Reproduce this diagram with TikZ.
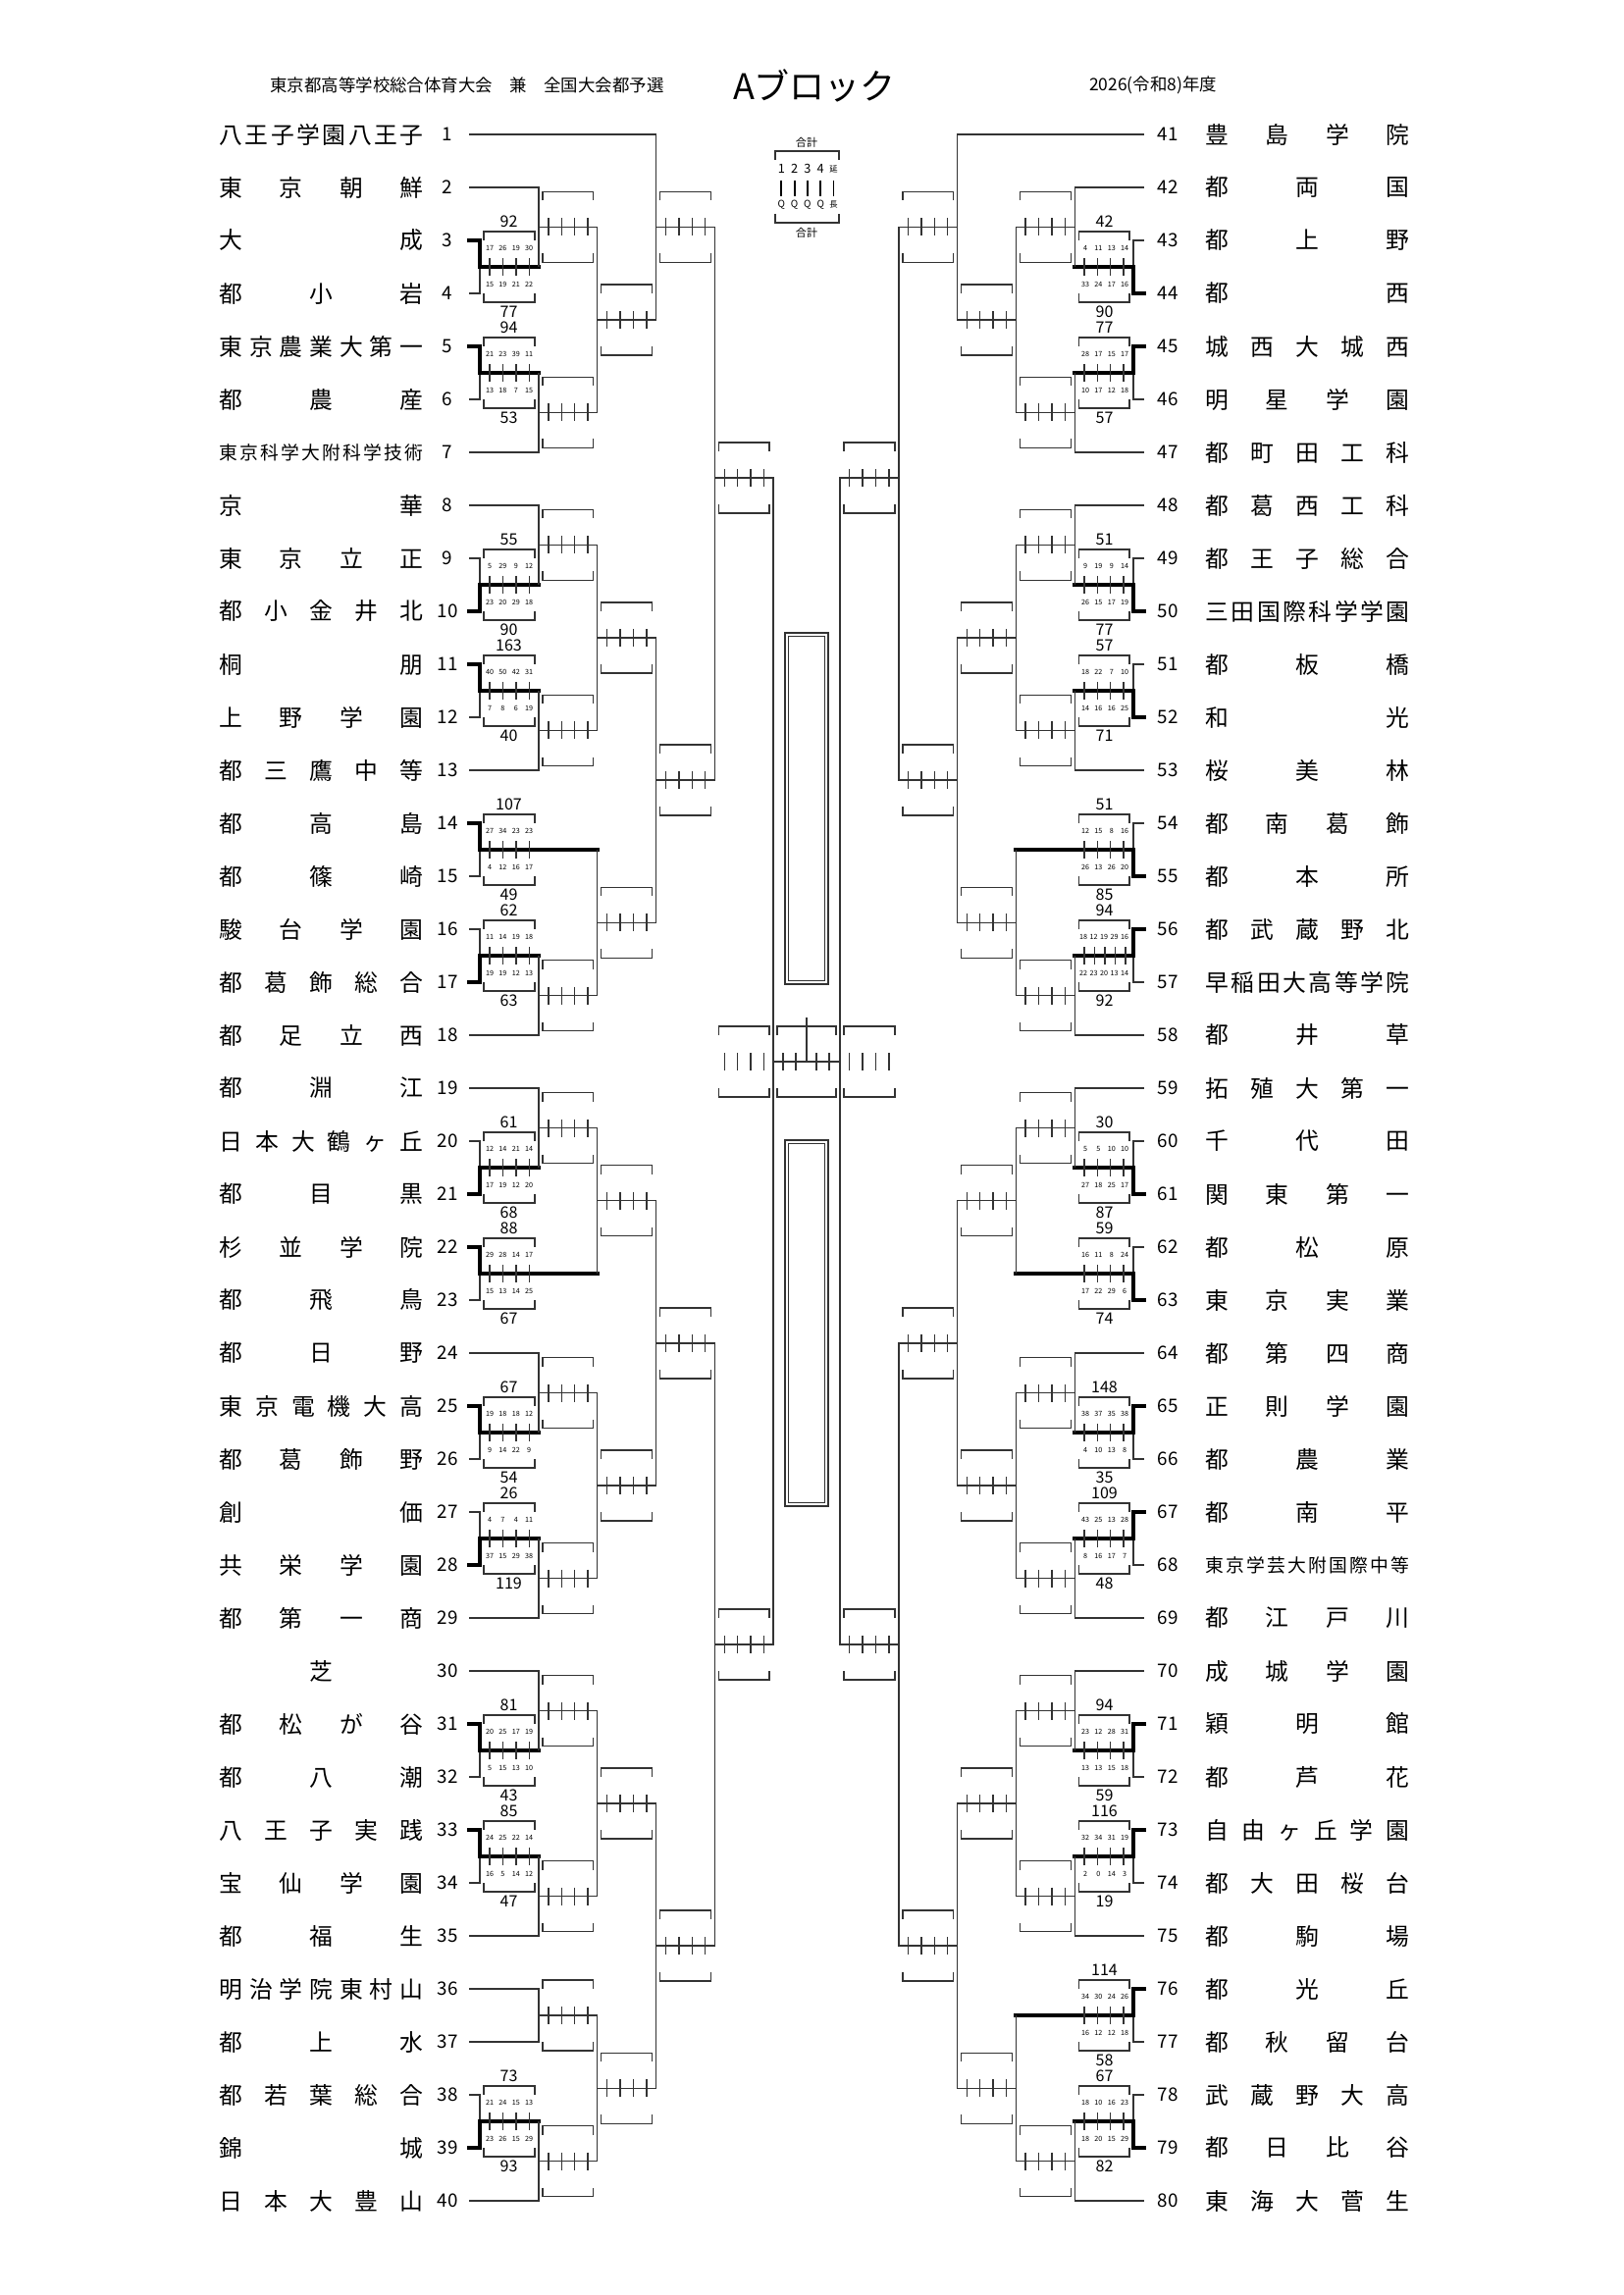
\documentclass[tikz,border=0pt]{standalone}
\usepackage{fontspec}
\setmainfont{Noto Sans CJK JP}
\usetikzlibrary{positioning}

\makeatletter
\newcommand\spread[1]{\def\sp@sep{}\@tfor\sp@c:=#1\do{\sp@sep\sp@c\def\sp@sep{\hfill}}}
\makeatother
\newcommand\tname[1]{\makebox[26.4mm][s]{\expandafter\spread\expandafter{#1}}}
\def\colpos{10,23.4,36.8,50.2}
\def\tickpos{10,23.4,36.8,50.2}

% bracket box with score ticks
\newcommand\mslot[3]{%
  \draw[br] ({mx(cx(#1)+4)},{#2-27}) -- ({mx(cx(#1)+4)},{#2-36}) -- ({mx(cx(#1+1)-4)},{#2-36}) -- ({mx(cx(#1+1)-4)},{#2-27});
  \draw[br] ({mx(cx(#1)+4)},{#2+27}) -- ({mx(cx(#1)+4)},{#2+36}) -- ({mx(cx(#1+1)-4)},{#2+36}) -- ({mx(cx(#1+1)-4)},{#2+27});
  \foreach \o in #3 {\draw[br] ({mx(cx(#1)+\o)},{#2-9}) -- ({mx(cx(#1)+\o)},{#2+9});}
}
% first round match with result
\newcommand\rmatch[8]{%
  \pgfmathsetmacro#1{ty(#2)+27}%
  \ifnum#4=1 \def\stT{win}\def\stB{br}\else\def\stT{br}\def\stB{win}\fi
  \draw[\stT] ({mx(478)},{ty(#2)}) -- ({mx(cx(0))},{ty(#2)}) -- ({mx(cx(0))},{#1});
  \draw[\stB] ({mx(478)},{ty(#2+1)}) -- ({mx(cx(0))},{ty(#2+1)}) -- ({mx(cx(0))},{#1});
  \draw[win] ({mx(cx(0))},{#1}) -- ({mx(cx(#3))},{#1});
  \mslot{0}{#1}{\colpos}
  \node[tot] at ({mx(cx(0)+29.5)},{#1-46}) {#5};
  \node[tot] at ({mx(cx(0)+29.5)},{#1+46}) {#8};
  \foreach \v [count=\n] in {#6} {\pgfmathsetmacro\cp{\bxl+{\colpos}[\n-1]}\node[sc] at (\cp,{#1-19}) {\v};}
  \foreach \v [count=\n] in {#7} {\pgfmathsetmacro\cp{\bxl+{\colpos}[\n-1]}\node[sc] at (\cp,{#1+18}) {\v};}
}
% later round join
\newcommand\jmatch[6]{%
  \draw[br] ({mx(#3)},{#2}) -- ({mx(cx(#6))},{#2}) -- ({mx(cx(#6))},{#4}) -- ({mx(#5)},{#4});
  \pgfmathsetmacro#1{(#2+#4)/2}%
  \mslot{#6}{#1}{\tickpos}
}
\newcommand\jfix[7]{%
  \draw[br] ({mx(#3)},{#2}) -- ({mx(cx(#6))},{#2}) -- ({mx(cx(#6))},{#4}) -- ({mx(#5)},{#4});
  \pgfmathsetmacro#1{#7}%
  \mslot{#6}{#1}{\tickpos}
}

\begin{document}
\begin{tikzpicture}[x=0.127mm, y=-0.127mm,
    br/.style={line width=0.5pt, draw=black!80},
    win/.style={line width=1.6pt, line cap=rect},
    tot/.style={font=\fontsize{5.8}{6}\selectfont, inner sep=0pt},
    sc/.style={font=\fontsize{2.6}{3}\selectfont, inner sep=0pt},
    num/.style={font=\fontsize{6.8}{7}\selectfont, inner sep=0pt},
    nm/.style={font=\fontsize{8.6}{9}\selectfont, inner sep=0pt, anchor=west},
    nms/.style={font=\fontsize{6.8}{7}\selectfont, inner sep=0pt, anchor=west},
    lg/.style={font=\fontsize{4}{4}\selectfont, inner sep=0pt},
    declare function={ty(\k)=137+54*(\k-1); cx(\i)=489+59.8*\i; mx(\x)=\sd*\x+\so;}
  ]
\useasboundingbox (0,0) rectangle (1654,2339);

% header
\node[font=\fontsize{6.3}{7}\selectfont] (hdl) at (476,87) {東京都高等学校総合体育大会\hspace{1em}兼\hspace{1em}全国大会都予選};
\node[font=\fontsize{13}{14}\selectfont] (ttl) at (830,87) {Aブロック};
\node[font=\fontsize{6.3}{7}\selectfont] (hdr) at (1175,87) {2026(令和8)年度};

% legend
\node[lg] (lgt) at (822,145) {合計};
\node[lg] (lgb) at (822,237) {合計};
\draw[br] (790,163) -- (790,154) -- (855,154) -- (855,163);
\draw[br] (790,218) -- (790,227) -- (855,227) -- (855,218);
\foreach \t [count=\i] in {1,2,3,4} {
  \node[lg, font=\fontsize{4.6}{5}\selectfont] at (783+13.3*\i,172) {\t};
  \draw[line width=0.7pt] (783+13.3*\i,184) -- (783+13.3*\i,200);
  \node[lg, font=\fontsize{3.6}{4}\selectfont] at (783+13.3*\i,209) {Q};
}
\node[lg, font=\fontsize{3}{3}\selectfont] at (849.5,172) {延};
\draw[line width=0.7pt] (849.5,184) -- (849.5,200);
\node[lg, font=\fontsize{3}{3}\selectfont] at (849.5,209) {長};

% centre
\draw[br] (800,645) rectangle (844,1003);
\draw[br] (803.5,648.5) rectangle (840.5,999.5);
\draw[br] (800,1162) rectangle (844,1535);
\draw[br] (803.5,1165.5) rectangle (840.5,1531.5);
\draw[br] (788,1082) -- (856,1082);
\draw[br] (822,1037) -- (822,1082);
\draw[br] (792,1055) -- (792,1046) -- (852,1046) -- (852,1055);
\draw[br] (792,1109) -- (792,1118) -- (852,1118) -- (852,1109);
\foreach \o in {798,811,832,845} {\draw[br] (\o,1073) -- (\o,1091);}

% left side
\begin{scope}
\def\sd{1}\def\so{0}\def\bxl{489}
\foreach \k/\n in {1/八王子学園八王子,2/東京朝鮮,3/大成,4/都小岩,5/東京農業大第一,6/都農産,8/京華,9/東京立正,10/都小金井北,
  11/桐朋,12/上野学園,13/都三鷹中等,14/都高島,15/都篠崎,16/駿台学園,17/都葛飾総合,18/都足立西,19/都淵江,20/日本大鶴ヶ丘,
  21/都目黒,22/杉並学院,23/都飛鳥,24/都日野,25/東京電機大高,26/都葛飾野,27/創価,28/共栄学園,29/都第一商,31/都松が谷,
  32/都八潮,33/八王子実践,34/宝仙学園,35/都福生,36/明治学院東村山,37/都上水,38/都若葉総合,39/錦城,40/日本大豊山}
  {\node[nm] (ln\k) at (223,{ty(\k)}) {\tname{\n}};}
\node[nms] (ln7) at (223,{ty(7)}) {\tname{東京科学大附科学技術}};
\node[nm, anchor=center] (ln30) at (327,{ty(30)}) {芝};
\foreach \k in {1,...,40} {\node[num] (lno\k) at (456,{ty(\k)}) {\k};}

\rmatch\yA{3}{1}{1}{92}{17,26,19,30}{15,19,21,22}{77}
\jmatch\yB{ty(2)}{478}{\yA}{cx(1)}{1}
\rmatch\yC{5}{1}{1}{94}{21,23,39,11}{13,18,7,15}{53}
\jmatch\yD{\yC}{cx(1)}{ty(7)}{478}{1}
\jmatch\yE{\yB}{cx(1)}{\yD}{cx(1)}{2}
\jmatch\yF{ty(1)}{478}{\yE}{cx(2)}{3}
\rmatch\yG{9}{1}{2}{55}{5,29,9,12}{23,20,29,18}{90}
\jmatch\yH{ty(8)}{478}{\yG}{cx(1)}{1}
\rmatch\yI{11}{1}{1}{163}{40,50,42,31}{7,8,6,19}{40}
\jmatch\yJ{\yI}{cx(1)}{ty(13)}{478}{1}
\jmatch\yK{\yH}{cx(1)}{\yJ}{cx(1)}{2}
\rmatch\yL{14}{2}{1}{107}{27,34,23,23}{4,12,16,17}{49}
\rmatch\yM{16}{1}{2}{62}{11,14,19,18}{19,19,12,13}{63}
\jmatch\yN{\yM}{cx(1)}{ty(18)}{478}{1}
\jmatch\yO{\yL}{cx(2)}{\yN}{cx(1)}{2}
\jmatch\yP{\yK}{cx(2)}{\yO}{cx(2)}{3}
\jfix\yTop{\yF}{cx(3)}{\yP}{cx(3)}{4}{487}

\rmatch\yA{20}{1}{2}{61}{12,14,21,14}{17,19,12,20}{68}
\jmatch\yB{ty(19)}{478}{\yA}{cx(1)}{1}
\rmatch\yC{22}{2}{1}{88}{29,28,14,17}{15,13,14,25}{67}
\jmatch\yD{\yB}{cx(1)}{\yC}{cx(2)}{2}
\rmatch\yE{25}{1}{1}{67}{19,18,18,12}{9,14,22,9}{54}
\jmatch\yF{ty(24)}{478}{\yE}{cx(1)}{1}
\rmatch\yG{27}{1}{2}{26}{4,7,4,11}{37,15,29,38}{119}
\jmatch\yH{\yG}{cx(1)}{ty(29)}{478}{1}
\jmatch\yI{\yF}{cx(1)}{\yH}{cx(1)}{2}
\jmatch\yJ{\yD}{cx(2)}{\yI}{cx(2)}{3}
\rmatch\yK{31}{1}{1}{81}{20,25,17,19}{5,15,13,10}{43}
\jmatch\yL{ty(30)}{478}{\yK}{cx(1)}{1}
\rmatch\yM{33}{1}{1}{85}{24,25,22,14}{16,5,14,12}{47}
\jmatch\yN{\yM}{cx(1)}{ty(35)}{478}{1}
\jmatch\yO{\yL}{cx(1)}{\yN}{cx(1)}{2}
\jmatch\yP{ty(36)}{478}{ty(37)}{478}{1}
\rmatch\yQ{38}{1}{2}{73}{21,24,15,13}{23,26,15,29}{93}
\jmatch\yR{\yQ}{cx(1)}{ty(40)}{478}{1}
\jmatch\yS{\yP}{cx(1)}{\yR}{cx(1)}{2}
\jmatch\yT{\yO}{cx(2)}{\yS}{cx(2)}{3}
\jmatch\yU{\yJ}{cx(3)}{\yT}{cx(3)}{4}
\draw[br] ({mx(cx(4))},{\yTop}) -- ({mx(cx(5))},{\yTop}) -- ({mx(cx(5))},{\yU}) -- ({mx(cx(4))},{\yU});
\mslot{4}{1082}{\tickpos}
\end{scope}

% right side
\begin{scope}
\def\sd{-1}\def\so{1644}\def\bxl{1096}
\foreach \k/\n in {41/豊島学院,42/都両国,43/都上野,44/都西,45/城西大城西,46/明星学園,47/都町田工科,48/都葛西工科,49/都王子総合,
  50/三田国際科学学園,51/都板橋,52/和光,53/桜美林,54/都南葛飾,55/都本所,56/都武蔵野北,57/早稲田大高等学院,58/都井草,
  59/拓殖大第一,60/千代田,61/関東第一,62/都松原,63/東京実業,64/都第四商,65/正則学園,66/都農業,67/都南平,69/都江戸川,
  70/成城学園,71/穎明館,72/都芦花,73/自由ヶ丘学園,74/都大田桜台,75/都駒場,76/都光丘,77/都秋留台,78/武蔵野大高,79/都日比谷,80/東海大菅生}
  {\node[nm] (rn\k) at (1228,{ty(\k-40)}) {\tname{\n}};}
\node[nms] (rn68) at (1228,{ty(28)}) {\tname{東京学芸大附国際中等}};
\foreach \k in {41,...,80} {\node[num] (rno\k) at (1190,{ty(\k-40)}) {\k};}

\rmatch\yA{3}{1}{2}{42}{4,11,13,14}{33,24,17,16}{90}
\jmatch\yB{ty(2)}{478}{\yA}{cx(1)}{1}
\rmatch\yC{5}{1}{1}{77}{28,17,15,17}{10,17,12,18}{57}
\jmatch\yD{\yC}{cx(1)}{ty(7)}{478}{1}
\jmatch\yE{\yB}{cx(1)}{\yD}{cx(1)}{2}
\jmatch\yF{ty(1)}{478}{\yE}{cx(2)}{3}
\rmatch\yG{9}{1}{2}{51}{9,19,9,14}{26,15,17,19}{77}
\jmatch\yH{ty(8)}{478}{\yG}{cx(1)}{1}
\rmatch\yI{11}{1}{2}{57}{18,22,7,10}{14,16,16,25}{71}
\jmatch\yJ{\yI}{cx(1)}{ty(13)}{478}{1}
\jmatch\yK{\yH}{cx(1)}{\yJ}{cx(1)}{2}
\rmatch\yL{14}{2}{2}{51}{12,15,8,16}{26,13,26,20}{85}
\def\colpos{8,18.5,29,39.5,50}
\rmatch\yM{16}{1}{1}{94}{18,12,19,29,16}{22,23,20,13,14}{92}
\def\colpos{10,23.4,36.8,50.2}
\jmatch\yN{\yM}{cx(1)}{ty(18)}{478}{1}
\jmatch\yO{\yL}{cx(2)}{\yN}{cx(1)}{2}
\jmatch\yP{\yK}{cx(2)}{\yO}{cx(2)}{3}
\jfix\yTop{\yF}{cx(3)}{\yP}{cx(3)}{4}{487}

\rmatch\yA{20}{1}{2}{30}{5,5,10,10}{27,18,25,17}{87}
\jmatch\yB{ty(19)}{478}{\yA}{cx(1)}{1}
\rmatch\yC{22}{2}{2}{59}{16,11,8,24}{17,22,29,6}{74}
\jmatch\yD{\yB}{cx(1)}{\yC}{cx(2)}{2}
\rmatch\yE{25}{1}{1}{148}{38,37,35,38}{4,10,13,8}{35}
\jmatch\yF{ty(24)}{478}{\yE}{cx(1)}{1}
\rmatch\yG{27}{1}{1}{109}{43,25,13,28}{8,16,17,7}{48}
\jmatch\yH{\yG}{cx(1)}{ty(29)}{478}{1}
\jmatch\yI{\yF}{cx(1)}{\yH}{cx(1)}{2}
\jmatch\yJ{\yD}{cx(2)}{\yI}{cx(2)}{3}
\rmatch\yK{31}{1}{1}{94}{23,12,28,31}{13,13,15,18}{59}
\jmatch\yL{ty(30)}{478}{\yK}{cx(1)}{1}
\rmatch\yM{33}{1}{1}{116}{32,34,31,19}{2,0,14,3}{19}
\jmatch\yN{\yM}{cx(1)}{ty(35)}{478}{1}
\jmatch\yO{\yL}{cx(1)}{\yN}{cx(1)}{2}
\rmatch\yP{36}{2}{1}{114}{34,30,24,26}{16,12,12,18}{58}
\rmatch\yQ{38}{1}{2}{67}{18,10,16,23}{18,20,15,29}{82}
\jmatch\yR{\yQ}{cx(1)}{ty(40)}{478}{1}
\jmatch\yS{\yP}{cx(2)}{\yR}{cx(1)}{2}
\jmatch\yT{\yO}{cx(2)}{\yS}{cx(2)}{3}
\jmatch\yU{\yJ}{cx(3)}{\yT}{cx(3)}{4}
\draw[br] ({mx(cx(4))},{\yTop}) -- ({mx(cx(5))},{\yTop}) -- ({mx(cx(5))},{\yU}) -- ({mx(cx(4))},{\yU});
\mslot{4}{1082}{\tickpos}
\end{scope}
\end{tikzpicture}
\end{document}
